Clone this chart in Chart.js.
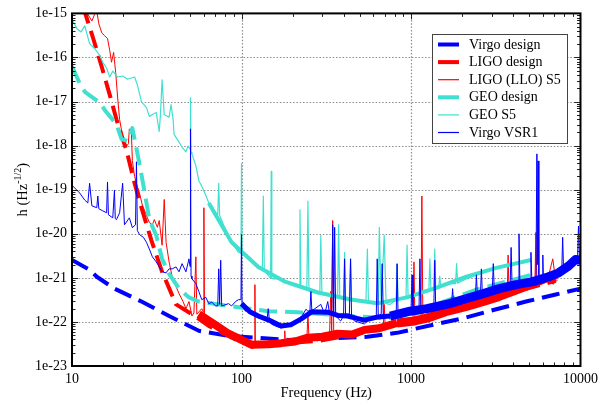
<!DOCTYPE html>
<html><head><meta charset="utf-8">
<script src="https://cdn.jsdelivr.net/npm/chart.js@4.4.1/dist/chart.umd.min.js"></script>
<style>html,body{margin:0;padding:0;background:#fff}</style>
</head><body>
<canvas id="c" width="603" height="403"></canvas>
<script>
// ---------- data ----------
const seriesLabels = ['Virgo design','LIGO design','LIGO (LLO) S5','GEO design','GEO S5','Virgo VSR1'];
const xTickValues = [10,100,1000,10000];
const xTickLabels = ['10','100','1000','10000'];
const yTickValues = [1e-23,1e-22,1e-21,1e-20,1e-19,1e-18,1e-17,1e-16,1e-15];
const yTickLabels = ['1e-23','1e-22','1e-21','1e-20','1e-19','1e-18','1e-17','1e-16','1e-15'];

const virgoDesignFreq = [10,12.7,14.0,17.8,25.7,37.4,56,83.9,121,188,323,553,828,1419,2042,3185,4767,7144,10000];
const virgoDesignH = [2.54e-21,1.52e-21,1.06e-21,5.7e-22,2.9e-22,1.36e-22,6.3e-23,4.8e-23,4.4e-23,3.9e-23,4.2e-23,4.6e-23,5.65e-23,9.0e-23,1.22e-22,1.94e-22,2.9e-22,4.2e-22,5.7e-22];

const ligoDesignFreq = [11.6,13.3,15.0,16.7,18.3,21.0,23.4,25.7,29.4,34.0,41.1,51.0,64.1,100,164.5,282,483,828,1623,3185,7144];
const ligoDesignH = [1.46e-15,2.8e-16,6.0e-17,1.42e-17,3.9e-18,7.6e-19,1.4e-19,3.9e-20,7.1e-21,1.37e-21,2.5e-22,1.5e-22,8.1e-23,3.4e-23,3.2e-23,3.7e-23,5.4e-23,9.0e-23,1.75e-22,3.7e-22,8.6e-22];

const geoDesignFreq = [10,11.1,11.9,14.6,15.8,18.3,19.6,21.3,22.7,23.7,25.0,26.7,28.6,31.4,34.0,37.4,42.8,49.0,56,87.4,143.8,215,422,724,1084,1560,2432,3640,5101];
const geoDesignH = [6.3e-17,2.6e-17,1.66e-17,9.4e-18,6.0e-18,3.05e-18,1.41e-18,1.27e-18,2.5e-18,1.09e-18,3.9e-19,9.7e-20,2.1e-20,9.2e-21,2.7e-21,1.23e-21,5.7e-22,3.6e-22,2.9e-22,2.26e-22,1.75e-22,1.66e-22,1.36e-22,1.22e-22,1.57e-22,2.9e-22,5.4e-22,8.2e-22,1.17e-21];

const ligoS5Freq = [11.75,12.4,13.1,13.6,14.0,14.4,15.0,15.6,16.2,16.7,17.1,17.6,18.1,18.6,19.1,19.9,21.0,21.5,21.8,22.4,22.7,23.4,24.0,25.0,26.0,27.5,28.6,29.8,30.6,31.9,32.7,34.0,35.0,35.9,37.4,39.0,41.1,42.8,45.2,47.0,49.0,51.0,52.4,53.8,54.5,58.3,59.5,60.0,60.5,61.6,64.1,70.4,76.4,83.9,92.2,100,106.9,114.4,119.3,120.0,120.7,130.9,143.8,158.1,171.3,179,180,181,206.8,224,243,246.6,250,282,322.7,331,335.9,340.6,345.1,350,369,405.7,440,531,632,686,695,704,753,910,1027,1041,1055,1144,1159,1175,1241,1363,1690,2126,2673,3314,3690,3741,3793,4168,5240,5383,5457,5530,5995,6500,6861,7144,7337];
const ligoS5H = [1.25e-15,9.6e-16,6.7e-16,9.6e-16,1.13e-15,5.8e-16,3.6e-16,3.1e-16,2.7e-16,1.44e-16,7.8e-17,1.3e-16,4.6e-17,1.2e-17,3.9e-18,1.6e-18,9.8e-19,1.1e-18,2.4e-18,2.1e-18,4.6e-19,2.0e-19,1.4e-19,8.4e-20,4.5e-20,2.6e-20,1.8e-20,1.6e-20,2.1e-20,1.4e-20,2.0e-20,5.5e-21,6.0e-20,6.4e-21,2.3e-21,1.06e-21,6.3e-22,4.4e-22,2.9e-22,2.0e-22,2.9e-22,1.36e-22,1.6e-22,3.0e-21,1.5e-22,2.0e-22,1.7e-22,3.9e-20,1.36e-22,1.22e-22,1.05e-22,9.0e-23,6.3e-23,4.8e-23,4.2e-23,3.4e-23,2.9e-23,2.5e-23,2.6e-23,7.0e-22,2.6e-23,2.9e-23,3.2e-23,2.9e-23,3.4e-23,3.6e-23,6.3e-23,3.6e-23,3.7e-23,4.2e-23,4.2e-23,1.5e-22,4.4e-23,3.7e-23,5.4e-23,5.4e-23,4.9e-22,5.4e-23,2.0e-20,5.4e-23,5.4e-23,4.4e-23,5.65e-23,6.3e-23,7.3e-23,7.3e-23,2.5e-22,8.0e-23,9.0e-23,9.5e-23,1.0e-22,2.3e-21,1.0e-22,1.02e-22,7.2e-20,1.05e-22,1.16e-22,1.5e-22,1.75e-22,2.26e-22,2.93e-22,3.8e-22,3.9e-22,3.3e-21,4.0e-22,5.4e-22,7.4e-22,7.4e-22,1.07e-20,7.6e-22,9.5e-22,1.17e-21,2.7e-21,8.2e-22,9.1e-22];
const ligoS5BandLowFreq = [56,70.4,83.9,100,114.4,143.8,171.3,206.8,246.6,300,369,450,531,650,828];
const ligoS5BandLowH = [1.5e-22,8.5e-23,5.4e-23,3.9e-23,3.05e-23,3.1e-23,3.3e-23,3.6e-23,4.4e-23,4.6e-23,5.4e-23,5.2e-23,6.6e-23,7.2e-23,9.5e-23];
const ligoS5BandHighFreq = [828,1050,1241,1600,2126,2673,3314,4168,5240,6500,7144];
const ligoS5BandHighH = [9.5e-23,1.05e-22,1.22e-22,1.7e-22,2.26e-22,2.9e-22,3.8e-22,5.3e-22,7.4e-22,1.05e-21,8.6e-22];

const geoS5Freq = [10,10.7,11.3,11.9,12.7,13.6,14.6,15.2,16.0,16.7,17.4,17.8,18.6,19.9,21.3,23.4,24.3,25.7,27.5,28.6,29.8,31.4,32.7,33.2,34.0,35.0,37.4,38.4,39.5,40.0,42.8,44.6,47.0,48.3,49.7,50.0,50.4,51.0,53.8,56,58.3,61.6,64.1,65.9,70.4,72.4,73.4,74.3,80.6,87.4,96.0,99.3,100,100.7,105.5,114.4,125.7,132.7,134.5,136.3,145.8,148.5,149.8,151,153.8,164.5,180.8,215,219,221.3,224,243,246.6,250,289.8,293.7,298,369,374,380,400,405.7,411,433,440,446,531,542,553,561,632,641,650,667,695,713,753,817,828,839,935,948,961,1041,1175,1241,1275,1292,1310,1363,1381,1399,1458,1478,1498,1690,1832,1858,1884,2126,2673,3314,4168,5101];
const geoS5H = [7.5e-16,4.5e-16,3.8e-16,5.2e-16,2.06e-16,1.6e-16,1.1e-16,7.8e-17,5.7e-17,3.6e-17,4.9e-17,4.4e-17,3.6e-17,3.8e-17,3.2e-17,3.6e-17,2.4e-17,1.0e-17,7.3e-18,4.6e-18,5.1e-18,5.65e-18,2.1e-18,4.6e-18,3.1e-17,5.1e-18,4.4e-18,8.5e-18,3.9e-18,1.8e-18,1.2e-18,9.3e-19,7.2e-19,9.8e-19,8.4e-19,1.22e-17,7.0e-19,6.5e-19,3.5e-19,1.6e-19,1.2e-19,7.5e-20,5.0e-20,4.5e-20,3.0e-20,2.7e-20,1.4e-19,2.6e-20,1.24e-20,6.4e-21,3.8e-21,3.6e-21,3.9e-19,3.45e-21,3.3e-21,2.3e-21,1.77e-21,1.5e-21,7.2e-20,1.45e-21,1.06e-21,1.0e-21,2.6e-19,9.8e-22,9.5e-22,9.5e-22,8.2e-22,7.0e-22,6.9e-22,3.5e-20,6.8e-22,6.0e-22,5.5e-20,5.7e-22,4.6e-22,9.2e-21,4.5e-22,3.8e-22,1.6e-20,3.6e-22,3.2e-22,3.8e-21,3.2e-22,3.3e-22,2.7e-21,3.2e-22,2.9e-22,2.9e-22,4.5e-21,2.8e-22,2.6e-22,2.6e-22,1.4e-20,2.6e-22,9.2e-21,2.6e-22,2.5e-22,3.2e-22,2.0e-21,3.2e-22,3.8e-22,5.5e-21,3.8e-22,4.2e-22,4.9e-22,5.4e-22,5.4e-22,2.7e-21,5.4e-22,5.65e-22,4.5e-21,5.65e-22,6.3e-22,1.1e-21,6.3e-22,7.4e-22,7.4e-22,2.1e-21,7.6e-22,9.5e-22,1.37e-21,1.7e-21,2.1e-21,2.5e-21];
const geoS5BandFreq = [64.1,87.4,125.7,180.8,282,440,632,948,1419,2126,3185,5101];
const geoS5BandH = [5.0e-20,6.4e-21,1.77e-21,8.2e-22,4.65e-22,3.24e-22,2.64e-22,3.6e-22,6.0e-22,1.06e-21,1.68e-21,2.54e-21];

const vsr1Freq = [10,11.1,11.9,12.4,12.7,13.1,14.0,14.2,14.4,15.2,16.0,16.2,16.4,17.4,17.8,18.0,18.3,19.1,19.9,20.4,21.8,22.7,23.7,24.0,24.3,25.0,26.4,27.5,28.6,29.8,31.4,32.7,34.0,35.9,37.4,39.0,41.1,42.8,44.6,47.0,49.0,49.7,50.0,50.4,51.0,53.8,56,58.3,61.6,64.1,66.8,70.4,72.4,73.4,74.3,75.4,76.4,83.9,87.4,92.2,96.0,99.3,100,100.7,105.5,109.9,114.4,120.8,125.7,130.9,138.1,141.8,143.8,145.8,149.8,158.1,171.3,188.2,206.8,224,240,246.6,253.3,256.7,260,270.8,293.7,309.8,322.7,331,340.6,345.1,350,354.5,359.4,384.6,400,405.7,411,433,440,446,464,531,576,624,632,641,667,676,686,753,818,828,839,862,987,1000,1014,1027,1084,1114,1129,1144,1241,1363,1381,1399,1690,1737,1760,1783,2126,2399,2432,2465,2567,2602,2638,2673,3017,3058,3100,3314,3846,3896,3948,4168,4280,4336,4392,5040,5101,5170,5240,5457,5530,5570,5620,5680,5950,5995,6040,6500,7430,7745,7849,7955,8506,9349,9600,9730,9865,10000];
const vsr1H = [1.26e-19,8.4e-20,5.8e-20,5.0e-20,1.4e-19,4.3e-20,3.9e-20,7.2e-20,3.7e-20,3.3e-20,3.0e-20,1.5e-19,2.7e-20,2.3e-20,9.7e-20,2.2e-20,2.1e-20,3.0e-20,1.4e-19,1.6e-20,2.3e-20,1.38e-20,1.6e-20,4.3e-19,1.18e-20,9.6e-21,8.3e-21,6.4e-21,4.5e-21,3.0e-21,2.3e-21,1.8e-21,1.37e-21,1.3e-21,1.6e-21,1.6e-21,1.77e-21,1.37e-21,2.1e-21,1.37e-21,2.7e-21,1.8e-21,2.4e-18,1.1e-21,9.5e-22,7.4e-22,4.9e-22,3.2e-22,3.6e-22,2.6e-22,2.8e-22,2.3e-22,2.3e-22,1.6e-21,2.5e-22,2.5e-21,2.3e-22,2.6e-22,2.3e-22,2.9e-22,3.2e-22,3.2e-22,9.6e-21,2.5e-22,1.75e-22,2.0e-22,1.57e-22,1.5e-22,1.22e-22,1.36e-22,1.16e-22,1.22e-22,2.0e-22,1.16e-22,9.0e-23,8.1e-23,7.3e-23,8.1e-23,9.0e-23,1.22e-22,1.94e-22,1.75e-22,1.8e-22,4.9e-22,1.8e-22,2.0e-22,2.5e-22,1.5e-22,2.9e-22,1.5e-22,1.5e-22,1.6e-20,1.5e-22,1.4e-20,1.36e-22,1.05e-22,1.36e-22,2.7e-21,1.5e-22,1.5e-22,2.7e-21,1.3e-22,1.05e-22,9.0e-23,1.22e-22,1.36e-22,2.7e-21,1.36e-22,1.5e-22,2.1e-21,1.5e-22,1.22e-22,1.36e-22,2.1e-21,1.36e-22,1.22e-22,1.75e-22,1.75e-22,1.17e-21,1.75e-22,1.5e-22,1.6e-22,2.7e-21,1.6e-22,2.0e-22,1.94e-22,2.5e-21,2.0e-22,2.5e-22,2.7e-22,5.7e-22,2.7e-22,3.4e-22,3.8e-22,1.17e-21,3.8e-22,4.0e-22,1.6e-21,4.0e-22,4.4e-22,5.0e-22,2.1e-21,5.0e-22,5.7e-22,6.4e-22,4.9e-21,6.4e-22,7.0e-22,7.0e-22,1.0e-20,7.0e-22,7.8e-22,3.8e-21,8.0e-22,8.2e-22,8.4e-22,6.5e-19,2.0e-21,4.5e-19,8.5e-22,9.2e-22,3.3e-21,9.4e-22,1.06e-21,1.23e-21,1.25e-21,8.3e-21,1.3e-21,2.0e-21,2.7e-21,2.6e-21,1.5e-20,2.5e-21,2.3e-21];
const vsr1BandLowFreq = [100,112,125.7,145,171.3,195,224,260,322.7,370,422,480,531,640,753];
const vsr1BandLowH = [2.6e-22,1.7e-22,1.36e-22,1.1e-22,8.1e-23,8.6e-23,1.16e-22,1.7e-22,1.66e-22,1.4e-22,1.36e-22,1.2e-22,1.1e-22,1.3e-22,1.36e-22];
const vsr1BandHighFreq = [753,987,1241,1690,2126,2673,3314,4168,5240,6500,7430,8506,9349,10000];
const vsr1BandHighH = [1.36e-22,1.75e-22,2.0e-22,2.6e-22,3.4e-22,4.4e-22,5.7e-22,7.0e-22,8.2e-22,1.06e-21,1.3e-21,1.86e-21,2.6e-21,2.5e-21];

// ---------- style ----------
const BLUE = '#0000ff', RED = '#ff0000', CYAN = '#40e0d0';
const SERIF = '"Liberation Serif", "Times New Roman", serif';
const gridXValues = [100, 1000];
const gridYValues = [1e-22,1e-21,1e-20,1e-19,1e-18,1e-17,1e-16];
const minorSteps = [2,3,4,5,6,7,8,9];
const xDecades = [10,100,1000];
const yDecades = [1e-23,1e-22,1e-21,1e-20,1e-19,1e-18,1e-17,1e-16];
const legendEntries = [
  {label: seriesLabels[0], color: BLUE, width: 4},
  {label: seriesLabels[1], color: RED, width: 4},
  {label: seriesLabels[2], color: RED, width: 1.2},
  {label: seriesLabels[3], color: CYAN, width: 4},
  {label: seriesLabels[4], color: CYAN, width: 1.2},
  {label: seriesLabels[5], color: BLUE, width: 1.2}
];

function pts(F, H) { return F.map((f, i) => ({x: f, y: H[i]})); }
function ds(label, F, H, color, width, order, dash) {
  return {label, data: pts(F, H), borderColor: color, borderWidth: width, order,
    borderDash: dash || [], pointRadius: 0, tension: 0, fill: false,
    borderJoinStyle: 'round', borderCapStyle: 'butt'};
}

const datasets = [
  ds(seriesLabels[5], vsr1Freq, vsr1H, BLUE, 1, 0),
  ds('band', vsr1BandLowFreq, vsr1BandLowH, BLUE, 5, 1),
  ds('band', vsr1BandHighFreq, vsr1BandHighH, BLUE, 9, 1),
  ds(seriesLabels[4], geoS5Freq, geoS5H, CYAN, 1.2, 2),
  ds('band', geoS5BandFreq, geoS5BandH, CYAN, 4, 3),
  ds(seriesLabels[3], geoDesignFreq, geoDesignH, CYAN, 4, 4, [18, 8]),
  ds(seriesLabels[2], ligoS5Freq, ligoS5H, RED, 1, 5),
  ds('band', ligoS5BandLowFreq, ligoS5BandLowH, RED, 8, 6),
  ds('band', ligoS5BandHighFreq, ligoS5BandHighH, RED, 9, 6),
  ds(seriesLabels[1], ligoDesignFreq, ligoDesignH, RED, 4, 7, [18, 8]),
  ds(seriesLabels[0], virgoDesignFreq, virgoDesignH, BLUE, 4, 8, [18, 8])
];

const framePlugin = {
  id: 'frame',
  beforeDatasetsDraw(chart) {
    const {ctx, chartArea: a, scales: {x, y}} = chart;
    ctx.save();
    ctx.strokeStyle = '#8c8c8c'; ctx.lineWidth = 1.2; ctx.setLineDash([1.5, 1.8]);
    gridXValues.forEach(v => {
      const px = Math.round(x.getPixelForValue(v)) + 0.5;
      ctx.beginPath(); ctx.moveTo(px, a.top); ctx.lineTo(px, a.bottom); ctx.stroke();
    });
    gridYValues.forEach(v => {
      const py = Math.round(y.getPixelForValue(v)) + 0.5;
      ctx.beginPath(); ctx.moveTo(a.left, py); ctx.lineTo(a.right, py); ctx.stroke();
    });
    ctx.restore();
  },
  afterDatasetsDraw(chart) {
    const {ctx, chartArea: a, scales: {x, y}} = chart;
    ctx.save();
    ctx.strokeStyle = '#222'; ctx.lineWidth = 1; ctx.setLineDash([]);
    const major = 6, minor = 3.5;
    const xTick = (v, len) => {
      const px = Math.round(x.getPixelForValue(v)) + 0.5;
      ctx.beginPath(); ctx.moveTo(px, a.bottom); ctx.lineTo(px, a.bottom - len);
      ctx.moveTo(px, a.top); ctx.lineTo(px, a.top + len); ctx.stroke();
    };
    const yTick = (v, len) => {
      const py = Math.round(y.getPixelForValue(v)) + 0.5;
      ctx.beginPath(); ctx.moveTo(a.left, py); ctx.lineTo(a.left + len, py);
      ctx.moveTo(a.right, py); ctx.lineTo(a.right - len, py); ctx.stroke();
    };
    xDecades.forEach(d => { xTick(d, major); minorSteps.forEach(m => xTick(d * m, minor)); });
    yDecades.forEach(d => { yTick(d, major); minorSteps.forEach(m => yTick(d * m, minor)); });
    ctx.lineWidth = 2; ctx.strokeStyle = '#000';
    ctx.strokeRect(a.left, a.top, a.right - a.left, a.bottom - a.top);
    // legend
    const lx = 432, ly = 34, lw = 135, lh = 109;
    ctx.fillStyle = '#fff'; ctx.fillRect(lx, ly, lw, lh);
    ctx.lineWidth = 1; ctx.strokeStyle = '#444';
    ctx.strokeRect(lx + 0.5, ly + 0.5, lw, lh);
    ctx.font = '14px ' + SERIF; ctx.textBaseline = 'middle'; ctx.textAlign = 'left';
    legendEntries.forEach((e, i) => {
      const ry = ly + 10.5 + i * 17.6;
      ctx.strokeStyle = e.color; ctx.lineWidth = e.width;
      ctx.beginPath(); ctx.moveTo(438, ry); ctx.lineTo(459, ry); ctx.stroke();
      ctx.fillStyle = '#000'; ctx.fillText(e.label, 469, ry + 0.5);
    });
    // x title
    ctx.font = '14.5px ' + SERIF; ctx.textAlign = 'center'; ctx.textBaseline = 'alphabetic';
    ctx.fillText('Frequency (Hz)', (a.left + a.right) / 2, 397);
    // y title with superscript
    const mainF = '14.5px ' + SERIF, supF = '10px ' + SERIF;
    const p1 = 'h (Hz', p2 = '-1/2', p3 = ')';
    ctx.font = mainF; const w1 = ctx.measureText(p1).width, w3 = ctx.measureText(p3).width;
    ctx.font = supF; const w2 = ctx.measureText(p2).width;
    const tw = w1 + w2 + w3;
    ctx.translate(21, (a.top + a.bottom) / 2); ctx.rotate(-Math.PI / 2);
    ctx.textAlign = 'left';
    let sx = -tw / 2;
    ctx.font = mainF; ctx.fillText(p1, sx, 6); sx += w1;
    ctx.font = supF; ctx.fillText(p2, sx, 0); sx += w2;
    ctx.font = mainF; ctx.fillText(p3, sx, 6);
    ctx.restore();
  }
};

new Chart(document.getElementById('c'), {
  type: 'line',
  data: {datasets},
  options: {
    responsive: false, animation: false, devicePixelRatio: 1,
    layout: {padding: {left: 0, right: 18, top: 7, bottom: 0}},
    plugins: {legend: {display: false}, tooltip: {enabled: false}},
    scales: {
      x: {
        type: 'logarithmic', min: 10, max: 10000,
        afterBuildTicks: s => { s.ticks = xTickValues.map(v => ({value: v})); },
        afterFit: s => { s.height = 37; },
        ticks: {callback: (v, i) => xTickLabels[i], autoSkip: false, maxRotation: 0,
          font: {family: SERIF, size: 14}, color: '#000', padding: 5},
        grid: {display: false, drawTicks: false}, border: {display: false}
      },
      y: {
        type: 'logarithmic', min: 1e-23, max: 1e-15,
        afterBuildTicks: s => { s.ticks = yTickValues.map(v => ({value: v})); },
        afterFit: s => { s.width = 72; },
        ticks: {callback: (v, i) => yTickLabels[i], autoSkip: false,
          font: {family: SERIF, size: 14}, color: '#000', padding: 5},
        grid: {display: false, drawTicks: false}, border: {display: false}
      }
    }
  },
  plugins: [framePlugin]
});
</script>
</body></html>
